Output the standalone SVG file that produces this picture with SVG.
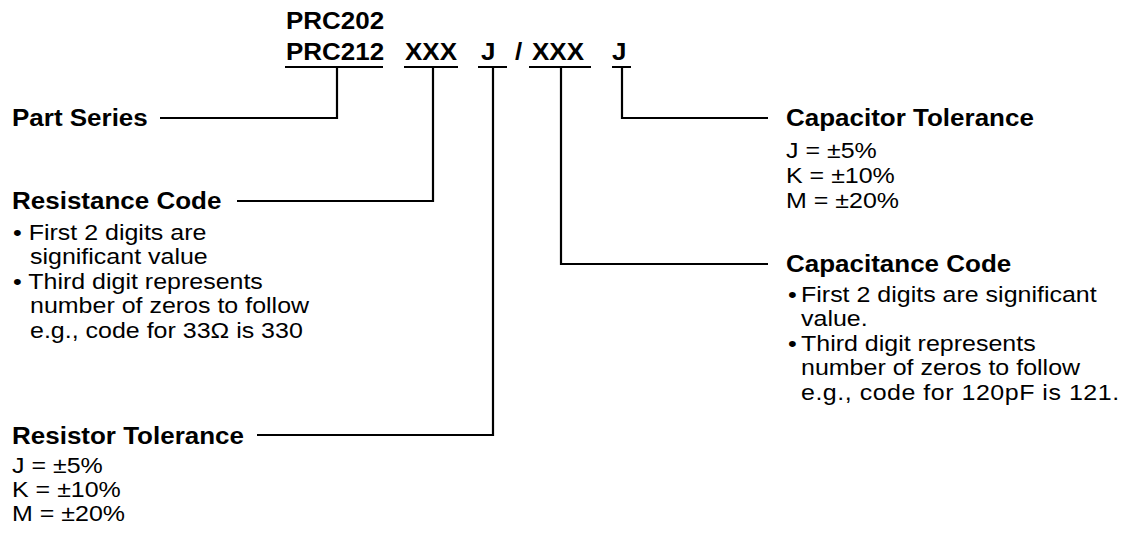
<svg xmlns="http://www.w3.org/2000/svg" width="1124" height="542" viewBox="0 0 1124 542">
<style>
.b{font-family:"Liberation Sans",Arial,Helvetica,sans-serif;font-weight:bold;font-size:23px;fill:#000}
.r{font-family:"Liberation Sans",Arial,Helvetica,sans-serif;font-size:22px;fill:#000}
.ln{stroke:#000;stroke-width:2.2;fill:none;stroke-linecap:butt;stroke-linejoin:miter}
</style>
<rect width="1124" height="542" fill="#fff"/>
<g id="partnumber">
<text class="b" transform="translate(286,29) scale(1.13,1)">PRC202</text>
<text class="b" transform="translate(286,60) scale(1.13,1)">PRC212</text>
<text class="b" transform="translate(405,60) scale(1.13,1)">XXX</text>
<text class="b" transform="translate(481,60) scale(1.13,1)">J</text>
<text class="b" transform="translate(515,60) scale(1.13,1)">/</text>
<text class="b" transform="translate(532,60) scale(1.13,1)">XXX</text>
<text class="b" transform="translate(612,60) scale(1.13,1)">J</text>
</g>
<g id="connectors">
<path class="ln" d="M285 67H383M404 67H458M478 67H507M529 67H591M612 67H631"/>
<path class="ln" d="M337 67V118H160"/>
<path class="ln" d="M433 67V201H237"/>
<path class="ln" d="M493 67V435H257"/>
<path class="ln" d="M561 67V264H768"/>
<path class="ln" d="M622 67V118H768"/>
</g>
<g id="part-series">
<text class="b" transform="translate(12,126) scale(1.13,1)">Part Series</text>
</g>
<g id="resistance-code">
<text class="b" transform="translate(12,209) scale(1.13,1)">Resistance Code</text>
<text class="r" transform="translate(13,240) scale(1.136,1)">• First 2 digits are</text>
<text class="r" transform="translate(30,264) scale(1.136,1)">significant value</text>
<text class="r" transform="translate(13,289) scale(1.136,1)">• Third digit represents</text>
<text class="r" transform="translate(30,313) scale(1.136,1)">number of zeros to follow</text>
<text class="r" transform="translate(30,338) scale(1.136,1)">e.g., code for 33Ω is 330</text>
</g>
<g id="resistor-tolerance">
<text class="b" transform="translate(12,444) scale(1.13,1)">Resistor Tolerance</text>
<text class="r" transform="translate(12,473) scale(1.136,1)">J = ±5%</text>
<text class="r" transform="translate(12,497) scale(1.136,1)">K = ±10%</text>
<text class="r" transform="translate(12,521) scale(1.136,1)">M = ±20%</text>
</g>
<g id="capacitor-tolerance">
<text class="b" transform="translate(786,126) scale(1.13,1)">Capacitor Tolerance</text>
<text class="r" transform="translate(786,158) scale(1.136,1)">J = ±5%</text>
<text class="r" transform="translate(786,183) scale(1.136,1)">K = ±10%</text>
<text class="r" transform="translate(786,208) scale(1.136,1)">M = ±20%</text>
</g>
<g id="capacitance-code">
<text class="b" transform="translate(786,272) scale(1.13,1)">Capacitance Code</text>
<text class="r" transform="translate(788,302) scale(1.136,1)">•</text>
<text class="r" transform="translate(801,302) scale(1.136,1)">First 2 digits are significant</text>
<text class="r" transform="translate(801,326) scale(1.136,1)">value.</text>
<text class="r" transform="translate(788,351) scale(1.136,1)">•</text>
<text class="r" transform="translate(801,351) scale(1.136,1)">Third digit represents</text>
<text class="r" transform="translate(801,375) scale(1.136,1)">number of zeros to follow</text>
<text class="r" transform="translate(801,400) scale(1.136,1)" textLength="280" lengthAdjust="spacing">e.g., code for 120pF is 121.</text>
</g>
</svg>
